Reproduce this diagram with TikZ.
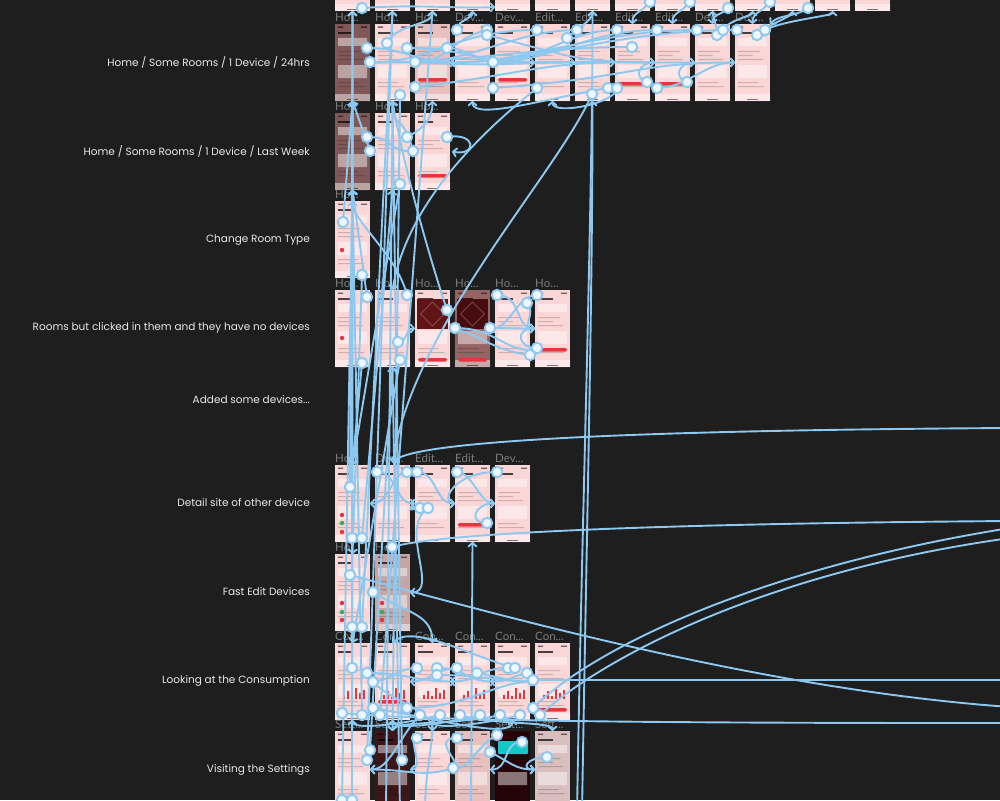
\documentclass[tikz,border=0pt]{standalone}
\usepackage{fontspec}
\setmainfont{Poppins}
\newfontfamily\uifont{Lato}
\usetikzlibrary{positioning,arrows.meta,calc}

\definecolor{canvas}{RGB}{30,30,30}
\definecolor{wire}{RGB}{140,200,240}
\definecolor{dotfill}{RGB}{238,246,255}
\definecolor{scr}{RGB}{250,214,214}
\definecolor{scrpale}{RGB}{232,192,192}
\definecolor{scrdim}{RGB}{128,88,88}
\definecolor{scrmauve}{RGB}{150,100,100}
\definecolor{scrmid}{RGB}{200,165,165}
\definecolor{scrgrey}{RGB}{216,190,190}
\definecolor{scrdark}{RGB}{62,22,24}
\definecolor{scrnight}{RGB}{38,4,8}
\definecolor{qrred}{RGB}{96,20,22}
\definecolor{qrdark}{RGB}{70,12,14}
\definecolor{alert}{RGB}{232,52,62}
\definecolor{okgreen}{RGB}{60,170,90}
\definecolor{cardcyan}{RGB}{20,200,200}
\definecolor{rowtxt}{RGB}{232,232,232}
\definecolor{frametxt}{RGB}{125,125,125}

\newcommand{\elide}{...}

% Inhalt eines Screens
\newcommand{\screenbits}[1]{%
  \fill[black, opacity=.55] ([shift={(3,2.5)}]#1.north west) rectangle ++(5,1.3)
    ([shift={(26,2.5)}]#1.north west) rectangle ++(6,1.3);
  \fill[black, opacity=.7] ([shift={(3,8)}]#1.north west) rectangle ++(15,2.2);
  \fill[white, opacity=.45] ([shift={(3,14)}]#1.north west) rectangle ++(29,8)
    ([shift={(3,41)}]#1.north west) rectangle ++(29,13)
    ([shift={(0,70)}]#1.north west) rectangle ++(35,7);
  \fill[black, opacity=.18] ([shift={(3,27)}]#1.north west) rectangle ++(22,1.2)
    ([shift={(3,31)}]#1.north west) rectangle ++(15,1.2)
    ([shift={(3,35)}]#1.north west) rectangle ++(25,1.2)
    ([shift={(3,58)}]#1.north west) rectangle ++(20,1.2)
    ([shift={(3,62)}]#1.north west) rectangle ++(26,1.2);
  \fill[black, opacity=.5] ([shift={(12,75)}]#1.north west) rectangle ++(11,1);
}

% Hotspots: name/screen/x/y
\newcommand{\hotspots}{%
ta/top1/27/74,tb/top8/35/68,tc/top9/35/68,td/top10/33/74,te/top11/35/68,tf/top12/33/74,%
d1a/day1/32/24,d1b/day1/35/38,d2a/day2/12/19,d2b/day2/25/71,d2c/day2/32/24,%
d3a/day3/0/38,d3b/day3/0/63,d3c/day3/32/24,d4a/day4/2/6,d4b/day4/32/6,d4c/day4/32/11,%
d4d/day4/38/38,d4e/day4/38/64,d6a/day6/2/6,d6b/day6/2/64,d6c/day6/32/14,%
d7a/day7/2/6,d7b/day7/33/64,d7c/day7/17/70,d8a/day8/2/6,d8b/day8/2/64,d8c/day8/17/23,%
d8d/day8/32/58,d9a/day9/2/6,d9b/day9/2/64,d9c/day9/32/58,d10a/day10/2/6,d10b/day10/22/11,%
d10c/day10/28/6,d11a/day11/2/6,d11b/day11/22/11,d11c/day11/30/6,%
w1a/week1/32/24,w1b/week1/35/38,w2a/week2/32/24,w2b/week2/38/38,w2c/week2/25/71,w3a/week3/32/24,%
c1a/type1/8/21,c1b/type1/27/74,%
n1a/none1/32/7,n1b/none1/27/73,n2a/none2/32/5,n2b/none2/23/52,n2c/none2/25/70,%
n3a/none3/32/20,n3b/none4/0/38,n4a/none4/35/38,n5a/none5/2/5,n5b/none5/32/13,%
n5c/none5/35/65,n6a/none6/2/5,n6b/none6/2/58,%
o1a/other1/15/22,o1b/other1/17/73,o1c/other1/27/73,o2a/other2/2/7,o2b/other2/32/7,%
o3a/other3/2/7,o3b/other3/5/43,o3c/other3/13/43,o4a/other4/2/7,o4b/other4/32/58,o5a/other5/2/7,%
f1a/fast1/15/21,f1b/fast1/38/38,f1c/fast1/17/73,f1d/fast1/27/73,f2a/fast2/17/-7,%
k1a/cons1/17/25,k1b/cons1/32/30,k1c/cons1/38/39,k1d/cons1/7/70,k1e/cons1/27/72,%
k2a/cons1/38/65,k2b/cons2/5/72,k2c/cons2/32/65,k3a/cons3/2/25,k3b/cons3/22/25,%
k3c/cons3/22/32,k3d/cons3/5/72,k3e/cons3/25/72,k4a/cons4/2/25,k4b/cons4/22/30,%
k4c/cons4/5/72,k4d/cons4/25/72,k5a/cons5/13/25,k5b/cons5/20/25,k5c/cons5/32/30,%
k5d/cons5/5/72,k5e/cons5/25/72,k6a/cons5/38/37,k6b/cons6/-2/65,k6c/cons6/5/72,%
s1a/sett1/35/19,s1b/sett1/32/29,s1c/sett1/7/69,s1d/sett1/17/69,s2a/sett2/27/29,%
s3a/sett3/2/7,s4a/sett4/2/7,s4b/sett3/38/37,s5a/sett5/2/4,s5b/sett5/27/11,%
s5c/sett4/35/21,s6a/sett6/12/26}

\begin{document}
\begin{tikzpicture}[x=1pt, y=-1pt,
    screen/.style={fill=#1, minimum width=35pt, minimum height=77pt,
      inner sep=0pt, outer sep=0pt, anchor=north west},
    screen/.default=scr,
    framename/.style={font=\uifont\fontsize{11.5}{13}\selectfont, text=frametxt,
      anchor=south west, inner sep=0pt},
    rowname/.style={font=\fontsize{10.5}{12}\selectfont, text=rowtxt, anchor=east, inner sep=0pt},
    link/.style={draw=wire, line width=1.9pt, -{Straight Barb[length=3.5pt,width=8pt,round]}},
    dot/.style={circle, draw=wire, fill=dotfill, line width=1.9pt, minimum size=10.5pt, inner sep=0pt}
  ]

  \useasboundingbox (0,0) rectangle (1000,800);
  \clip (0,0) rectangle (1000,800);
  \fill[canvas] (0,0) rectangle (1000,800);

  % Zeilen
  \node[rowname] (lab1) at (310,62) {Home / Some Rooms / 1 Device / 24hrs};
  \node[rowname] (lab2) at (310,151) {Home / Some Rooms / 1 Device / Last Week};
  \node[rowname] (lab3) at (310,240) {Change Room Type};
  \node[rowname] (lab4) at (310,328) {Rooms but clicked in them and they have no devices};
  \node[rowname] (lab5) at (310,400) {Added some devices...};
  \node[rowname] (lab6) at (310,503) {Detail site of other device};
  \node[rowname] (lab7) at (310,592) {Fast Edit Devices};
  \node[rowname] (lab8) at (310,681) {Looking at the Consumption};
  \node[rowname] (lab9) at (310,770) {Visiting the Settings};

  % Screens
  \foreach \i in {1,...,14} {
    \node[screen] (top\i) at ({295+40*\i},-66) {};
    \screenbits{top\i}
  }
  \foreach \i/\lbl/\c in {1/Ho/scrdim,2/Ho/scr,3/Ho/scrpale,4/Dev/scr,5/Dev/scr,6/Edit/scr,
      7/Edit/scr,8/Edit/scr,9/Edit/scr,10/Dev/scr,11/Dev/scr} {
    \node[screen=\c] (day\i) at ({295+40*\i},24) {};
    \screenbits{day\i}
    \node[framename] (day\i-t) at ([shift={(0,-2)}]day\i.north west) {\lbl\elide};
  }
  \foreach \i/\lbl/\c in {1/Ho/scrdim,2/Ho/scr,3/Ho/scr} {
    \node[screen=\c] (week\i) at ({295+40*\i},113) {};
    \screenbits{week\i}
    \node[framename] (week\i-t) at ([shift={(0,-2)}]week\i.north west) {\lbl\elide};
  }
  \node[screen] (type1) at (335,201) {};
  \screenbits{type1}
  \node[framename] (type1-t) at ([shift={(0,-2)}]type1.north west) {Ho\elide};
  \foreach \i/\c in {1/scr,2/scr,3/scr,4/scrmauve,5/scr,6/scr} {
    \node[screen=\c] (none\i) at ({295+40*\i},290) {};
    \screenbits{none\i}
    \node[framename] (none\i-t) at ([shift={(0,-2)}]none\i.north west) {Ho\elide};
  }
  \foreach \i/\lbl in {1/Ho,2/Dev,3/Edit,4/Edit,5/Dev} {
    \node[screen] (other\i) at ({295+40*\i},465) {};
    \screenbits{other\i}
    \node[framename] (other\i-t) at ([shift={(0,-2)}]other\i.north west) {\lbl\elide};
  }
  \foreach \i/\c in {1/scr,2/scrmid} {
    \node[screen=\c] (fast\i) at ({295+40*\i},554) {};
    \screenbits{fast\i}
    \node[framename] (fast\i-t) at ([shift={(0,-2)}]fast\i.north west) {Ho\elide};
  }
  \foreach \i in {1,...,6} {
    \node[screen] (cons\i) at ({295+40*\i},643) {};
    \screenbits{cons\i}
    \node[framename] (cons\i-t) at ([shift={(0,-2)}]cons\i.north west) {Con\elide};
  }
  \foreach \i/\c in {1/scr,2/scrdark,3/scr,4/scrpale,5/scrnight,6/scrgrey} {
    \node[screen=\c] (sett\i) at ({295+40*\i},731) {};
    \screenbits{sett\i}
    \node[framename] (sett\i-t) at ([shift={(0,-2)}]sett\i.north west) {Sett\elide};
  }

  % Details
  \foreach \s/\y in {day3/54,day5/54,day8/58,day9/58,week3/61,none3/68,none4/68,none6/58,
      other4/58,cons2/57,cons6/65}
    \fill[alert, rounded corners=1.5pt] ([shift={(3,\y)}]\s.north west) rectangle ++(29,3.5);
  \foreach \s/\y/\c in {other1/50/alert,other1/58/okgreen,other1/67/alert,fast1/49/alert,
      fast1/58/okgreen,fast1/66/alert,fast2/49/alert,fast2/58/okgreen,fast2/66/alert,
      type1/49/alert,none1/48/alert}
    \fill[\c] ([shift={(7,\y)}]\s.north west) circle (2.2);
  \foreach \s/\c in {none3/qrred,none4/qrdark} {
    \fill[\c] ([shift={(2,9)}]\s.north west) rectangle ++(31,30);
    \draw[white, opacity=.35, line width=.6pt] ([shift={(17.5,12)}]\s.north west)
      -- ++(12,12) -- ++(-12,12) -- ++(-12,-12) -- cycle;
  }
  \foreach \k in {1,...,6}
    \foreach \h [count=\j] in {4,8,3,11,6,9}
      \fill[alert] ([shift={(4+4*\j,56-\h)}]cons\k.north west) rectangle ++(2,\h);
  \fill[cardcyan, rounded corners=1pt] ([shift={(3,10)}]sett5.north west) rectangle ++(30,13);

  \foreach \n/\s/\x/\y in \hotspots
    \coordinate (\n) at ([shift={(\x,\y)}]\s.north west);
  \foreach \n/\x/\y in {east1/1010/428,east2/1010/521,east3/1010/528,east4/1010/538,
      east5/1010/680,east6/1010/707,east7/1010/723,south1/577/812,south2/582/812,
      south3/471/812,south4/386/812,south5/400/812,south6/425/812}
    \coordinate (\n) at (\x,\y);

  % Verbindungen: oben
  \draw[link] (ta) .. controls +(60,-4) and +(-40,2) .. ([shift={(0,-4)}]top5.south west);
  \draw[link] (tb) .. controls +(-10,12) and +(0,-12) .. (day8.north);
  \draw[link] (tc) .. controls +(-10,12) and +(0,-12) .. (day9.north);
  \draw[link] (td) .. controls +(-8,8) and +(0,-10) .. (day10.north);
  \draw[link] (te) .. controls +(-10,12) and +(0,-12) .. (day11.north);
  \draw[link] (tf) .. controls +(-15,10) and +(10,-10) .. (day11.north east);
  \draw[link] (d1a) .. controls +(40,0) and +(-40,0) .. (day4.west);
  \draw[link] (d1b) -- (day3.west);
  \draw[link] (d2a) .. controls +(10,-20) and +(0,15) .. (top3.south);
  \draw[link] (d2b) -- (sett2.north);
  \draw[link] (d2c) .. controls +(60,0) and +(-60,0) .. (day6.west);
  \draw[link] (d3a) .. controls +(80,5) and +(-60,0) .. (day7.west);
  \draw[link] (d3b) .. controls +(90,-10) and +(-70,0) .. (day8.west);
  \draw[link] (d3c) .. controls +(20,0) and +(-15,0) .. (day5.west);
  \draw[link] (d4a) .. controls +(0,-10) and +(0,8) .. (top4.south);
  \draw[link] (d4b) .. controls +(-40,10) and +(40,0) .. (day2.east);
  \draw[link] (d4c) .. controls +(80,20) and +(-80,0) .. (day9.west);
  \draw[link] (d4d) .. controls +(120,0) and +(-90,0) .. (day10.west);
  \draw[link] (d4e) .. controls +(140,-10) and +(-100,0) .. (day11.west);
  \draw[link] (d6a) .. controls +(-80,0) and +(60,0) .. (day1.east);
  \draw[link] (d6b) .. controls +(-50,40) and +(15,-90) .. (none2.north);
  \draw[link] (d6c) .. controls +(10,-10) and +(0,10) .. (top7.south);
  \draw[link] (d7a) .. controls +(-60,0) and +(60,0) .. (day2.east);
  \draw[link] (d7b) .. controls +(-60,10) and +(0,20) .. (day4.south);
  \draw[link] (d7c) .. controls +(-32,76) and +(17,-133) .. ([shift={(18,-2)}]other2.north west);
  \draw[link] (d8a) .. controls +(-50,0) and +(50,0) .. (day4.east);
  \draw[link] (d8b) .. controls +(0,15) and +(0,15) .. (day6.south);
  \draw[link] (d8c) .. controls +(-100,0) and +(100,0) .. (day1.east);
  \draw[link] (d8d) .. controls +(-15,-5) and +(-15,0) .. (day9.west);
  \draw[link] (d9a) .. controls +(-70,0) and +(60,0) .. (day4.east);
  \draw[link] (d9b) .. controls +(30,0) and +(-30,0) .. (day11.west);
  \draw[link] (d9c) .. controls +(-15,-5) and +(-15,0) .. (day10.west);
  \draw[link] (d10a) .. controls +(-100,0) and +(80,0) .. (day3.east);
  \draw[link] (d10b) .. controls +(0,-10) and +(0,5) .. (top10.south);
  \draw[link] (d10c) .. controls +(5,-10) and +(0,5) .. (top11.south);
  \draw[link] (d11a) .. controls +(-120,0) and +(90,0) .. (day3.east);
  \draw[link] (d11b) .. controls +(10,-10) and +(0,5) .. (top12.south);
  \draw[link] (d11c) .. controls +(20,-10) and +(0,5) .. (top13.south);

  % Last Week, Room Type, Rooms
  \draw[link] (w1a) .. controls +(30,0) and +(-30,0) .. (week3.west);
  \draw[link] (w1b) -- (day1.south);
  \draw[link] (w2a) .. controls +(20,-10) and +(0,15) .. (day3.south);
  \draw[link] (w2b) .. controls +(-10,-40) and +(0,30) .. (day2.south);
  \draw[link] (w2c) -- (other1.north);
  \draw[link] (w3a) .. controls +(30,-5) and +(25,5) .. ([shift={(2,0)}]week3.east);
  \draw[link] (c1a) -- (day1.south);
  \draw[link] (c1b) -- (fast1.north);
  \draw[link] (n1a) -- (week1.south);
  \draw[link] (n1b) -- (other1.north);
  \draw[link] (n2a) .. controls +(-10,-40) and +(0,20) .. (type1.north);
  \draw[link] (n2b) .. controls +(10,0) and +(-10,0) .. (none3.west);
  \draw[link] (n2c) -- (cons1.north);
  \draw[link] (n3a) .. controls +(-20,-60) and +(10,60) .. (day2.south);
  \draw[link] (n3b) .. controls +(40,0) and +(-30,0) .. ([shift={(-2,60)}]none6.north west);
  \draw[link] (n4a) .. controls +(25,0) and +(-25,0) .. (none6.west);
  \draw[link] (n5a) .. controls +(25,0) and +(-20,0) .. (none6.west);
  \draw[link] (n5b) .. controls +(10,10) and +(-15,0) .. (none6.west);
  \draw[link] (n6a) .. controls +(-20,0) and +(20,0) .. (none4.east);
  \draw[link] (n6b) .. controls +(-20,0) and +(-20,0) .. (none6.west);
  \draw[link] (n5c) .. controls +(-40,-5) and +(30,5) .. (none3.east);

  % Detail, Fast Edit
  \draw[link] (east1) .. controls +(-500,3) and +(10,-15) .. ([shift={(18,-2)}]other2.north west);
  \draw[link] (o1a) -- (day1.south);
  \draw[link] (o1b) -- (top1.south);
  \draw[link] (o1c) -- (week2.south);
  \draw[link] (o2a) .. controls +(20,0) and +(-20,0) .. (other3.west);
  \draw[link] (o2b) .. controls +(-15,0) and +(20,0) .. (other1.east);
  \draw[link] (o3a) .. controls +(20,0) and +(-20,0) .. (other4.west);
  \draw[link] (o4a) .. controls +(15,0) and +(-15,0) .. (other5.west);
  \draw[link] (o5a) .. controls +(-45,0) and +(-15,0) .. (other4.west);
  \draw[link] (o3b) .. controls +(-25,5) and +(20,0) .. (other2.east);
  \draw[link] (o3c) .. controls +(-30,20) and +(30,0) .. (fast2.east);
  \draw[link] (o4b) .. controls +(-20,0) and +(-20,0) .. (other5.west);
  \draw[link] (f2a) .. controls +(40,-12) and +(-400,3) .. (east2);
  \draw[link] (f1a) .. controls +(150,40) and +(-250,-18) .. (east6);
  \draw[link] (f1b) .. controls +(30,20) and +(0,-30) .. (cons3.north);
  \draw[link] (f1c) -- (day1.south);
  \draw[link] (f1d) -- (top2.south);

  % Consumption
  \draw[link] (k1a) -- (top1.south);
  \draw[link] (k1b) .. controls +(40,0) and +(-40,0) .. (cons4.west);
  \draw[link] (k1c) .. controls +(20,20) and +(0,-20) .. (sett3.north);
  \draw[link] (k1d) .. controls +(100,10) and +(-200,0) .. (east7);
  \draw[link] (k1e) -- (week1.south);
  \draw[link] (k2a) .. controls +(60,10) and +(0,20) .. (cons5.south);
  \draw[link] (k2b) -- (top3.south);
  \draw[link] (k2c) .. controls +(60,0) and +(-40,0) .. (cons6.west);
  \draw[link] (k3a) .. controls +(-20,0) and +(20,0) .. (cons1.east);
  \draw[link] (k3b) .. controls +(30,0) and +(-30,0) .. (cons5.west);
  \draw[link] (k3c) .. controls +(50,0) and +(-40,0) .. (cons6.west);
  \draw[link] (k3d) .. controls +(-20,20) and +(20,0) .. (sett1.east);
  \draw[link] (k3e) .. controls +(-40,10) and +(0,10) .. (cons1.south);
  \draw[link] (k4a) .. controls +(-20,0) and +(20,0) .. (cons2.east);
  \draw[link] (k4b) .. controls +(30,5) and +(-30,0) .. (cons6.west);
  \draw[link] (k4c) .. controls +(30,10) and +(0,-10) .. (sett6.north);
  \draw[link] (k4d) .. controls +(-40,10) and +(0,10) .. (cons2.south);
  \draw[link] (k5a) .. controls +(-30,0) and +(30,0) .. (cons3.east);
  \draw[link] (k5b) .. controls +(-40,-10) and +(20,-20) .. (cons2.north);
  \draw[link] (k5c) .. controls +(-20,5) and +(20,0) .. (cons4.east);
  \draw[link] (k5d) .. controls +(-40,10) and +(0,-10) .. (sett2.north);
  \draw[link] (k5e) .. controls +(-40,10) and +(0,10) .. (cons3.south);
  \draw[link] (k6a) -- (east5);
  \draw[link] (k6b) .. controls +(60,-60) and +(-250,40) .. (east3);
  \draw[link] (k6c) .. controls +(60,-55) and +(-250,35) .. (east4);

  % Settings
  \draw[link] (s1a) -- (none2.south);
  \draw[link] (s1b) -- (top2.south);
  \draw[link] (s1c) -- (week1.south);
  \draw[link] (s1d) -- (top1.south);
  \draw[link] (s2a) -- (day2.south);
  \draw[link] (s3a) .. controls +(-10,0) and +(15,0) .. (sett2.east);
  \draw[link] (s4a) .. controls +(-30,0) and +(20,0) .. (sett3.east);
  \draw[link] (s4b) .. controls +(-30,10) and +(40,0) .. (sett1.east);
  \draw[link] (s5a) .. controls +(-20,10) and +(20,0) .. (sett3.east);
  \draw[link] (s5b) .. controls +(-20,0) and +(20,0) .. (sett4.east);
  \draw[link] (s5c) .. controls +(20,10) and +(-20,0) .. (sett6.west);
  \draw[link] (s6a) .. controls +(-20,0) and +(-15,0) .. (sett6.west);

  % von unten
  \draw[link] (south1) .. controls +(5,-300) and +(0,200) .. (top7.south);
  \draw[link] (south2) .. controls +(5,-300) and +(0,200) .. (day7.south);
  \draw[link] (south3) -- (other4.south);
  \draw[link] (south4) -- (day2.south);
  \draw[link] (south5) -- (none2.south);
  \draw[link] (south6) .. controls +(0,-40) and +(0,30) .. (cons3.south);

  \foreach \n/\s/\x/\y in \hotspots
    \node[dot] (\n-dot) at (\n) {};
\end{tikzpicture}
\end{document}
